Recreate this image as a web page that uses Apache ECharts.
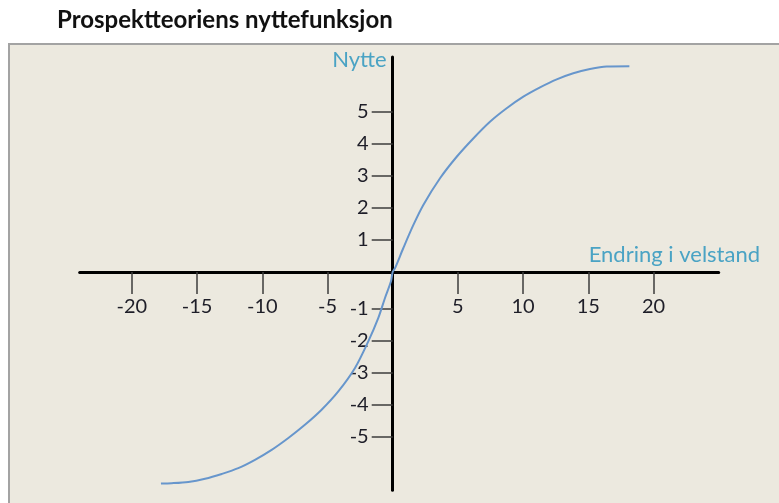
<!DOCTYPE html>
<html>
<head>
<meta charset="utf-8">
<script src="https://cdn.jsdelivr.net/npm/echarts@6/dist/echarts.min.js"></script>
<style>
  html, body { margin: 0; padding: 0; background: #ffffff; }
  #chart { width: 779px; height: 503px; }
</style>
</head>
<body>
<div id="chart"></div>
<script>
// Labels
const titleText = 'Prospektteoriens nyttefunksjon';
const xName = 'Endring i velstand';
const yName = 'Nytte';

// Tick labels
const xTicks = [-20, -15, -10, -5, 5, 10, 15, 20];
const yTicksGain = [1, 2, 3, 4, 5];
const yTicksLoss = [-5, -4, -3, -2, -1];

// Value function: change in wealth -> utility
const wealthChange = [-17.77, -16.95, -15.67, -14.39, -13.11, -11.84, -10.56, -9.28, -8.0, -6.73,
                      -5.45, -4.17, -2.89, -1.87, -1.1, -0.59, -0.13, 0,
                      0.18, 0.81, 1.58, 2.35, 3.63, 4.91, 6.18, 7.46, 8.74, 10.02,
                      11.3, 12.58, 13.85, 15.13, 16.41, 18.15];
const utility =      [-6.59, -6.58, -6.54, -6.44, -6.29, -6.11, -5.85, -5.54, -5.17, -4.76,
                      -4.29, -3.72, -2.99, -2.16, -1.43, -0.81, -0.29, 0,
                      0.12, 0.74, 1.46, 2.09, 2.92, 3.59, 4.16, 4.68, 5.10, 5.46,
                      5.75, 6.00, 6.19, 6.32, 6.40, 6.41];

const curve = wealthChange.map((x, i) => [x, utility[i]]);

const FONT = 'Lato';
const tickColor = '#3c3c3c';
const labelColor = '#1e1e28';
const nameColor = '#4aa3c4';

// Plot rectangle; the axes cross at the origin inside it
const gridLeft = 79.7, gridTop = 56.9, gridWidth = 639, gridHeight = 433.4;
const originX = 392.7, originY = 272;

const chart = echarts.init(document.getElementById('chart'), null, { renderer: 'canvas' });

chart.setOption({
  animation: false,
  backgroundColor: '#ffffff',
  title: {
    text: titleText,
    left: 52,
    top: 3,
    textStyle: { fontFamily: FONT, fontWeight: 'bold', fontSize: 24, color: '#111111' }
  },
  graphic: [{
    type: 'rect',
    z: -100,
    silent: true,
    shape: { x: 9, y: 44, width: 800, height: 500 },
    style: { fill: '#ECE9DF', stroke: '#A3A3A3', lineWidth: 2 }
  }],
  grid: {
    left: gridLeft,
    top: gridTop,
    width: gridWidth,
    height: gridHeight,
    containLabel: false,
    outerBoundsMode: 'none',
    show: false
  },
  xAxis: {
    type: 'value',
    min: -24,
    max: 25,
    position: 'bottom',
    offset: originY - (gridTop + gridHeight),
    name: xName,
    nameLocation: 'end',
    nameGap: -130,
    nameMoveOverlap: false,
    nameTextStyle: {
      fontFamily: FONT, fontSize: 22, color: nameColor,
      align: 'left', verticalAlign: 'bottom', lineHeight: 34
    },
    axisLine: { show: true, onZero: false, lineStyle: { color: '#000000', width: 3 } },
    axisTick: { show: true, inside: false, length: 22, customValues: xTicks,
                lineStyle: { color: tickColor, width: 1.5 } },
    axisLabel: { show: true, customValues: xTicks, margin: 25,
                 fontFamily: FONT, fontSize: 20, color: labelColor },
    splitLine: { show: false }
  },
  yAxis: [{
    type: 'value',
    min: -6.8,
    max: 6.7,
    position: 'left',
    offset: gridLeft - originX,
    name: yName,
    nameLocation: 'end',
    nameGap: -3,
    nameMoveOverlap: false,
    nameTextStyle: {
      fontFamily: FONT, fontSize: 22, color: nameColor,
      align: 'right', verticalAlign: 'middle', padding: [0, 6, 0, 0]
    },
    axisLine: { show: true, onZero: false, lineStyle: { color: '#000000', width: 3 } },
    axisTick: { show: true, inside: false, length: 21, customValues: yTicksGain,
                lineStyle: { color: tickColor, width: 1.5 } },
    axisLabel: { show: true, customValues: yTicksGain, margin: 24,
                 fontFamily: FONT, fontSize: 20, color: labelColor },
    splitLine: { show: false }
  }, {
    // loss-side ticks sit a little lower on the vertical axis
    type: 'value',
    min: -6.67,
    max: 6.83,
    position: 'left',
    offset: gridLeft - originX,
    axisLine: { show: false, onZero: false },
    axisTick: { show: true, inside: false, length: 21, customValues: yTicksLoss,
                lineStyle: { color: tickColor, width: 1.5 } },
    axisLabel: { show: true, customValues: yTicksLoss, margin: 24,
                 fontFamily: FONT, fontSize: 20, color: labelColor },
    splitLine: { show: false }
  }],
  series: [{
    type: 'line',
    xAxisIndex: 0,
    yAxisIndex: 0,
    data: curve,
    smooth: 0.3,
    showSymbol: false,
    symbol: 'none',
    lineStyle: { color: '#6796cc', width: 2 },
    z: 3
  }]
});
</script>
</body>
</html>
